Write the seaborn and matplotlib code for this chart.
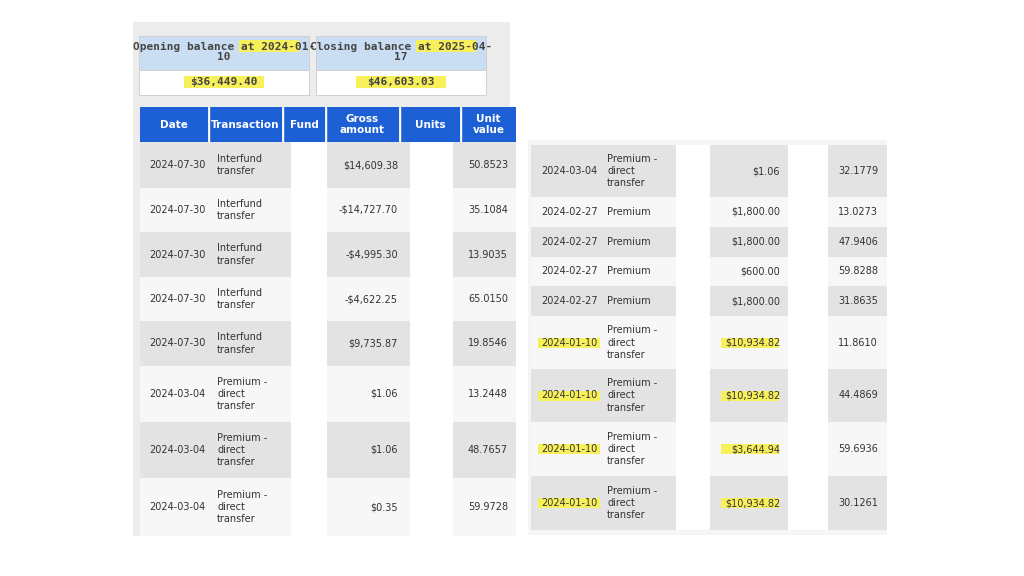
import matplotlib
matplotlib.use("Agg")
import matplotlib.pyplot as plt
import seaborn as sns
from matplotlib.patches import Rectangle

sns.set_theme(style="white")

open_label = "Opening balance at 2024-01-\n10"
open_value = "$36,449.40"
close_label = "Closing balance at 2025-04-\n17"
close_value = "$46,603.03"

headers = ["Date", "Transaction", "Fund", "Gross\namount", "Units", "Unit\nvalue"]
left_dates = ["2024-07-30"] * 5 + ["2024-03-04"] * 3
left_tx = ["Interfund\ntransfer"] * 5 + ["Premium -\ndirect\ntransfer"] * 3
left_gross = ["$14,609.38", "-$14,727.70", "-$4,995.30", "-$4,622.25", "$9,735.87", "$1.06", "$1.06", "$0.35"]
left_unit = ["50.8523", "35.1084", "13.9035", "65.0150", "19.8546", "13.2448", "48.7657", "59.9728"]

right_dates = ["2024-03-04", "2024-02-27", "2024-02-27", "2024-02-27", "2024-02-27",
               "2024-01-10", "2024-01-10", "2024-01-10", "2024-01-10"]
right_tx = ["Premium -\ndirect\ntransfer", "Premium", "Premium", "Premium", "Premium",
            "Premium -\ndirect\ntransfer", "Premium -\ndirect\ntransfer",
            "Premium -\ndirect\ntransfer", "Premium -\ndirect\ntransfer"]
right_gross = ["$1.06", "$1,800.00", "$1,800.00", "$600.00", "$1,800.00",
               "$10,934.82", "$10,934.82", "$3,644.94", "$10,934.82"]
right_unit = ["32.1779", "13.0273", "47.9406", "59.8288", "31.8635",
              "11.8610", "44.4869", "59.6936", "30.1261"]
right_hl = [False] * 5 + [True] * 4

fig = plt.figure(figsize=(10.24, 5.76), dpi=100)
ax = fig.add_axes([0, 0, 1, 1])
ax.set_xlim(0, 1024); ax.set_ylim(576, 0); ax.axis("off")

GRAY, WHITE, BLUE, LBLUE, YEL = "#e3e3e3", "#f7f7f7", "#1d5fd4", "#c9def3", "#f8f05a"
TXT = "#333333"

def rect(x0, y0, x1, y1, c, **kw):
    ax.add_patch(Rectangle((x0, y0), x1 - x0, y1 - y0, facecolor=c, edgecolor=kw.get("ec", "none"), lw=kw.get("lw", 0)))

def hl(x, y, w, h=10):
    rect(x - w / 2, y - h / 2, x + w / 2, y + h / 2, YEL)

# left panel background
rect(133, 22, 510, 536, "#ececec")
for x0, lab, val, hw in [(139, open_label, open_value, 80), (316, close_label, close_value, 90)]:
    rect(x0, 36, x0 + 170, 70, LBLUE, ec="#cccccc", lw=0.6)
    rect(x0, 70, x0 + 170, 95, "white", ec="#cccccc", lw=0.6)
    hl(x0 + 130, 46, 60, 12)
    hl(x0 + 85, 82, hw, 12)
    ax.text(x0 + 85, 52, lab, ha="center", va="center", fontsize=8, color="#444444",
            fontweight="bold", family="DejaVu Sans Mono", linespacing=1.1)
    ax.text(x0 + 85, 82, val, ha="center", va="center", fontsize=8, color="#444444",
            fontweight="bold", family="DejaVu Sans Mono")

# left table header
cols = [(140, 208), (209, 282), (283, 325), (326, 399), (400, 460), (461, 516)]
for (a, b), h in zip(cols, headers):
    rect(a, 107, b, 142, BLUE)
    ax.text((a + b) / 2, 124.5, h, ha="center", va="center", fontsize=7.5, color="white",
            fontweight="bold", linespacing=1.1)
    if b < 516:
        ax.plot([b + 0.5, b + 0.5], [107, 142], color="white", lw=1)

lefts_y = [142, 188, 232, 277, 321, 366, 422, 478, 536]
for i in range(len(left_dates)):
    y0, y1 = lefts_y[i], lefts_y[i + 1]
    c = GRAY if i % 2 == 0 else WHITE
    rect(140, y0, 516, y1, c)
    rect(291, y0, 327, y1, "white")
    rect(410, y0, 453, y1, "white")
    ym = (y0 + y1) / 2
    ax.text(149, ym, left_dates[i], va="center", fontsize=7, color=TXT)
    ax.text(217, ym, left_tx[i], va="center", fontsize=7, color=TXT, linespacing=1.3)
    ax.text(398, ym, left_gross[i], va="center", ha="right", fontsize=7, color=TXT)
    ax.text(508, ym, left_unit[i], va="center", ha="right", fontsize=7, color=TXT)

# right table
rights_y = [145, 197, 227, 257, 286, 316, 369, 422, 476, 530]
rect(528, 140, 887, 535, "#f5f5f5")
for i in range(len(right_dates)):
    y0, y1 = rights_y[i], rights_y[i + 1]
    c = GRAY if i % 2 == 0 else WHITE
    rect(531, y0, 887, y1, c)
    rect(676, y0, 710, y1, "white")
    rect(788, y0, 828, y1, "white")
    ym = (y0 + y1) / 2
    if right_hl[i]:
        hl(569, ym, 62)
        hl(750, ym, 58)
    ax.text(541, ym, right_dates[i], va="center", fontsize=7, color=TXT)
    ax.text(607, ym, right_tx[i], va="center", fontsize=7, color=TXT, linespacing=1.3)
    ax.text(780, ym, right_gross[i], va="center", ha="right", fontsize=7, color=TXT)
    ax.text(878, ym, right_unit[i], va="center", ha="right", fontsize=7, color=TXT)

fig.savefig("out.png", dpi=100, facecolor="white")
